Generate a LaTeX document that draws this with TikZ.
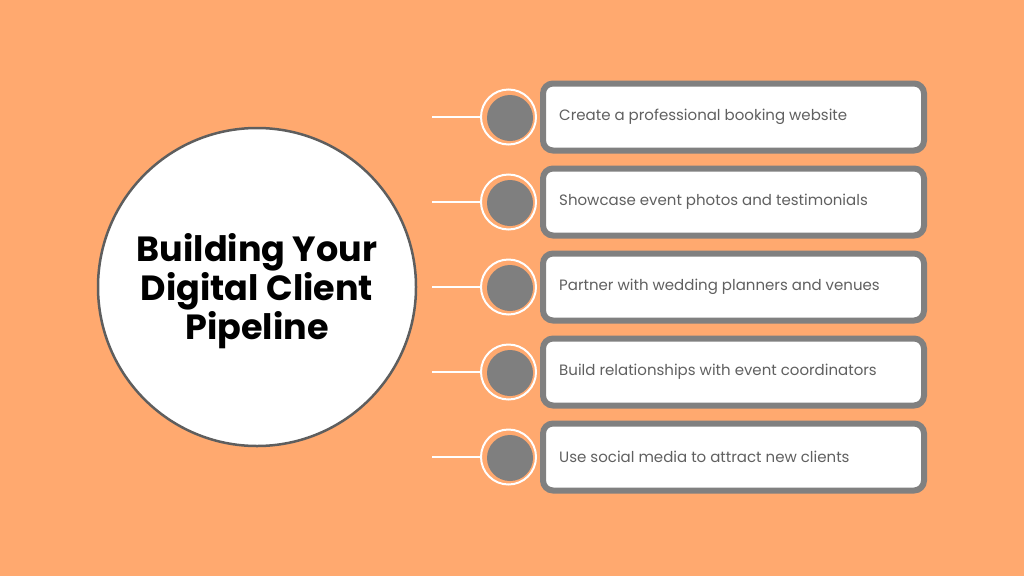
\documentclass[tikz,border=0pt]{standalone}
\usepackage{fontspec}
\setmainfont{Poppins}
\definecolor{bg}{HTML}{FFA96F}
\definecolor{boxgray}{HTML}{808080}
\definecolor{dotgray}{HTML}{7F7F7F}
\definecolor{txtgray}{HTML}{606060}
\definecolor{rimgray}{HTML}{5E5E5E}
\begin{document}
\begin{tikzpicture}[x=1pt,y=-1pt,
  itembox/.style={draw=boxgray, line width=6pt, fill=white, rounded corners=10pt,
    minimum width=381pt, minimum height=67pt, inner sep=0pt},
  itemtext/.style={anchor=west, text=txtgray, font=\fontsize{15pt}{18pt}\selectfont, inner sep=0pt},
  ring/.style={circle, draw=white, line width=2pt, minimum size=55pt, inner sep=0pt},
  dot/.style={circle, fill=dotgray, minimum size=46pt, inner sep=0pt},
  link/.style={draw=white, line width=1.4pt}
]
\useasboundingbox (0,0) rectangle (1024,576);
\fill[bg] (0,0) rectangle (1024,576);
\node[circle, draw=rimgray, line width=2.5pt, fill=white, minimum size=318pt, inner sep=0pt] (hub) at (257,287) {};
\node[font=\bfseries\fontsize{35pt}{39pt}\selectfont, align=center, text=black] (title) at (257,291) {Building Your\\Digital Client\\Pipeline};
\foreach \i/\t in {1/Create a professional booking website,
  2/Showcase event photos and testimonials,
  3/Partner with wedding planners and venues,
  4/Build relationships with event coordinators,
  5/Use social media to attract new clients}{
  \pgfmathsetmacro{\yy}{117+85*(\i-1)}
  \node[itembox] (box\i) at (733.5,\yy) {};
  \node[itemtext] (txt\i) at (559,\yy) {\t};
  \node[ring] (ring\i) at (508.5,\yy) {};
  \node[dot] (dot\i) at (510,\yy+1) {};
  \coordinate (start\i) at (432,\yy);
  \draw[link] (start\i) -- (ring\i.west);
}
\end{tikzpicture}
\end{document}
